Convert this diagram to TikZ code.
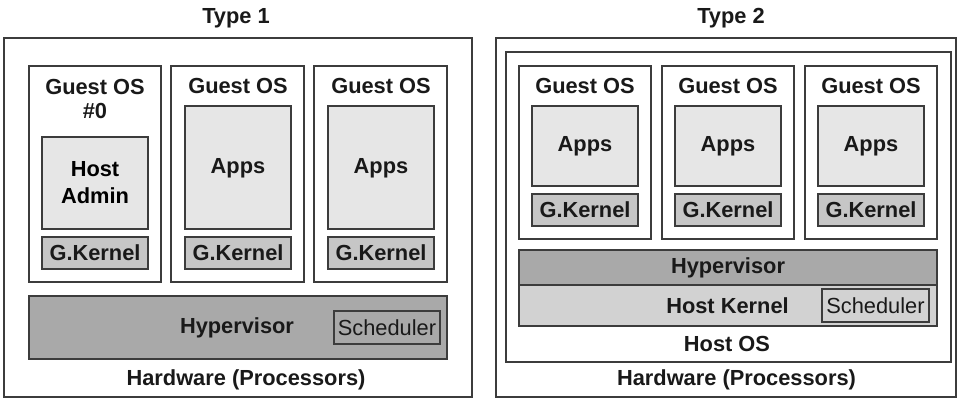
\documentclass[tikz,border=0pt]{standalone}
\usepackage{fontspec}
\setmainfont{Liberation Sans}
\definecolor{lightfill}{HTML}{E6E6E6}
\definecolor{midfill}{HTML}{C6C6C6}
\definecolor{darkfill}{HTML}{A9A9A9}
\definecolor{hkfill}{HTML}{D2D2D2}
\definecolor{edge}{HTML}{3C3C3C}
\newcommand{\bigfont}{\fontsize{21.9}{25}\selectfont}
\begin{document}
\begin{tikzpicture}[x=1bp,y=-1bp,
  box/.style={draw=edge, line width=1.5bp, inner sep=0pt, outer sep=0pt},
  lbl/.style={font=\bigfont\bfseries, text=black!90, inner sep=0pt, align=center},
  blbl/.style={box, font=\bigfont\bfseries, text=black!90},
  sch/.style={box, font=\bigfont, text=black!90}
]
\useasboundingbox (0,0) rectangle (959,399);
% ---------------- Type 1 ----------------
\node[lbl] (t1) at (236,18) {Type 1};
\node[box, minimum width=468bp, minimum height=359bp] (out1) at (238,217.5) {};
\node[box, minimum width=132bp, minimum height=216bp] (g1a) at (95,174) {};
\node[box, minimum width=133bp, minimum height=216bp] (g1b) at (237.5,174) {};
\node[box, minimum width=133bp, minimum height=216bp] (g1c) at (380.5,174) {};
\node[lbl] (g1alab) at (95,99) {Guest OS\\[-1bp]\#0};
\node[lbl] (g1blab) at (238,86) {Guest OS};
\node[lbl] (g1clab) at (381,86) {Guest OS};
\node[box, fill=lightfill, minimum width=106bp, minimum height=92bp, align=center, font=\fontsize{21.9}{27}\selectfont\bfseries] (ha) at (95,183) {Host\\Admin};
\node[box, fill=lightfill, minimum width=106bp, minimum height=123bp] (ap1b) at (238,167.5) {};
\node[box, fill=lightfill, minimum width=106bp, minimum height=123bp] (ap1c) at (381,167.5) {};
\node[lbl] (ap1blab) at (238,168) {Apps};
\node[lbl] (ap1clab) at (381,168) {Apps};
\node[blbl, fill=midfill, minimum width=106bp, minimum height=32bp] (gk1a) at (95,253) {G.Kernel};
\node[blbl, fill=midfill, minimum width=106bp, minimum height=32bp] (gk1b) at (238,253) {G.Kernel};
\node[blbl, fill=midfill, minimum width=106bp, minimum height=32bp] (gk1c) at (381,253) {G.Kernel};
\node[box, fill=darkfill, minimum width=418bp, minimum height=63bp] (hyp1) at (238,327.5) {};
\node[lbl] (hyp1lab) at (237,327.5) {Hypervisor};
\node[sch, minimum width=106bp, minimum height=33bp] (sch1) at (387,327.5) {Scheduler};
\node[lbl] (hw1) at (246,380) {Hardware (Processors)};
% ---------------- Type 2 ----------------
\node[lbl] (t2) at (731,18) {Type 2};
\node[box, minimum width=460bp, minimum height=359bp] (out2) at (726,217.5) {};
\node[box, minimum width=445bp, minimum height=310bp] (hos) at (728.5,207) {};
\node[box, minimum width=132bp, minimum height=173bp] (g2a) at (585,152.5) {};
\node[box, minimum width=132bp, minimum height=173bp] (g2b) at (728,152.5) {};
\node[box, minimum width=132bp, minimum height=173bp] (g2c) at (871,152.5) {};
\node[lbl] (g2alab) at (585,86) {Guest OS};
\node[lbl] (g2blab) at (728,86) {Guest OS};
\node[lbl] (g2clab) at (871,86) {Guest OS};
\node[blbl, fill=lightfill, minimum width=106bp, minimum height=80bp] (ap2a) at (585,146) {Apps};
\node[blbl, fill=lightfill, minimum width=106bp, minimum height=80bp] (ap2b) at (728,146) {Apps};
\node[blbl, fill=lightfill, minimum width=106bp, minimum height=80bp] (ap2c) at (871,146) {Apps};
\node[blbl, fill=midfill, minimum width=106bp, minimum height=32bp] (gk2a) at (585,210) {G.Kernel};
\node[blbl, fill=midfill, minimum width=106bp, minimum height=32bp] (gk2b) at (728,210) {G.Kernel};
\node[blbl, fill=midfill, minimum width=106bp, minimum height=32bp] (gk2c) at (871,210) {G.Kernel};
\node[blbl, fill=darkfill, minimum width=418bp, minimum height=35bp] (hyp2) at (728,267.5) {Hypervisor};
\node[box, fill=hkfill, minimum width=418bp, minimum height=41bp] (hk) at (728,305.5) {};
\node[lbl] (hklab) at (727.5,305.5) {Host Kernel};
\node[sch, fill=hkfill, minimum width=107bp, minimum height=33bp] (sch2) at (875.5,305.5) {Scheduler};
\node[lbl] (hoslab) at (727,344) {Host OS};
\node[lbl] (hw2) at (736.5,380) {Hardware (Processors)};
\end{tikzpicture}
\end{document}
